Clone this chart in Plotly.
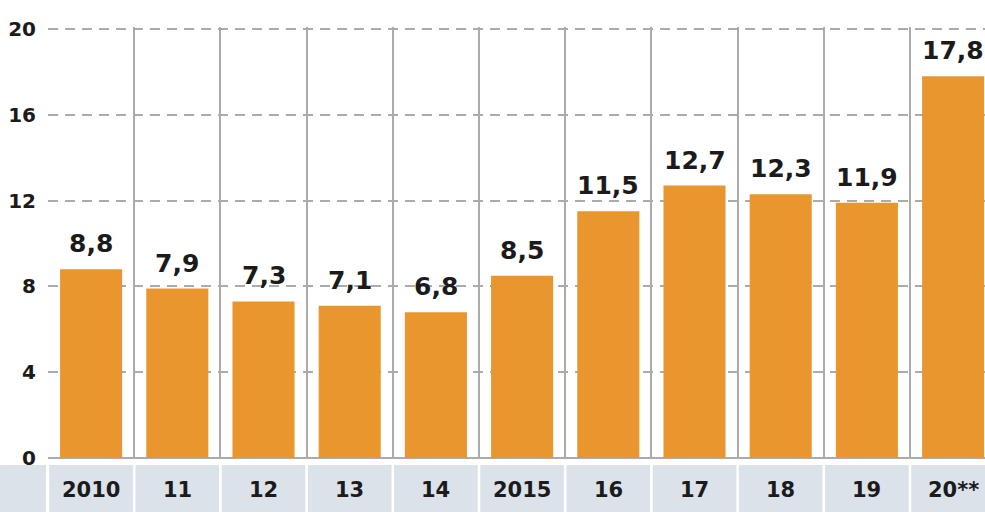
import plotly.graph_objects as go

categories = ["2010", "11", "12", "13", "14", "2015", "16", "17", "18", "19", "20**"]
values = [8.8, 7.9, 7.3, 7.1, 6.8, 8.5, 11.5, 12.7, 12.3, 11.9, 17.8]
value_labels = ["8,8", "7,9", "7,3", "7,1", "6,8", "8,5", "11,5", "12,7", "12,3", "11,9", "17,8"]
y_ticks = [0, 4, 8, 12, 16, 20]

BAR = "#E9962F"
TXT = "#1b1b1b"
GRID = "#ababab"
BAND = "#dbe2e9"
FONT = "DejaVu Sans"

W, H = 985, 512
ML, MR, MT, MB = 48, 0, 27, 54
plot_h = H - MT - MB
px_per_unit = (458 - 29) / 20.0
y_top = 20 + 2 / px_per_unit

fig = go.Figure()
fig.add_trace(go.Bar(
    x=categories, y=values, width=0.72,
    marker=dict(color=BAR, line=dict(width=0)),
    cliponaxis=False, hoverinfo="x+y",
))

# category band under the axis
band_top = -(7) / plot_h
band_bot = -(MB) / plot_h
shapes = [dict(type="rect", xref="paper", yref="paper",
               x0=-(ML) / (W - ML - MR), x1=-2 / (W - ML - MR),
               y0=band_bot, y1=band_top, fillcolor=BAND, line=dict(width=0), layer="above")]
for i, c in enumerate(categories):
    shapes.append(dict(type="rect", xref="x", yref="paper",
                       x0=i - 0.5 + 0.015, x1=i + 0.5 - 0.015,
                       y0=band_bot, y1=band_top, fillcolor=BAND, line=dict(width=0), layer="above"))

annotations = []
for i, (v, t) in enumerate(zip(values, value_labels)):
    annotations.append(dict(x=i, y=v, xref="x", yref="y", text=t, showarrow=False,
                            yanchor="bottom", yshift=9,
                            font=dict(family=FONT, size=25, color=TXT, weight="bold")))
for i, c in enumerate(categories):
    annotations.append(dict(x=i, y=-(490 - 458) / plot_h, xref="x", yref="paper", text=c,
                            showarrow=False, yanchor="middle",
                            font=dict(family=FONT, size=21, color=TXT, weight="bold")))

fig.update_layout(
    width=W, height=H,
    margin=dict(l=ML, r=MR, t=MT, b=MB, pad=0),
    paper_bgcolor="white", plot_bgcolor="white",
    showlegend=False,
    shapes=shapes,
    annotations=annotations,
    xaxis=dict(
        type="category", range=[-0.5, 10.37],
        tickson="boundaries", showgrid=True, gridcolor=GRID, gridwidth=2,
        ticks="", showline=False, zeroline=False, showticklabels=False,
    ),
    yaxis=dict(
        range=[0, y_top], tickvals=y_ticks, ticktext=[str(v) for v in y_ticks],
        showgrid=True, gridcolor=GRID, gridwidth=2, griddash="10px,7px",
        zeroline=True, zerolinecolor=GRID, zerolinewidth=2,
        ticks="", showline=False,
        tickfont=dict(family=FONT, size=20, color=TXT, weight="bold"),
        ticklabelstandoff=11,
    ),
)

fig.write_html("out.html")
